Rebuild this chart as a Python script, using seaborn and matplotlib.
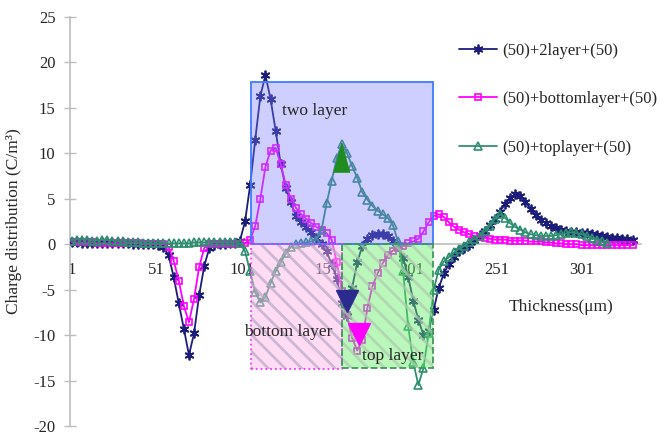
import numpy as np
import pandas as pd
import matplotlib
matplotlib.use("Agg")
import matplotlib.pyplot as plt
from matplotlib.patches import Rectangle
import seaborn as sns

# thickness positions (every 3rd sample) and charge density
thickness = list(range(1, 332, 3))

two_layer = [
    0.2, 0.2, 0.1, 0.1, 0.1, 0.1, 0.1, 0.1, 0.1, 0.1,
    0.1, 0.1, 0.0, 0.0, 0.0, 0.0, 0.0, -0.1, -0.3, -1.2,
    -3.6, -6.5, -9.3, -12.2, -9.8, -5.6, -2.4, -0.4, -0.1, 0.0,
    0.0, 0.1, 0.1, 0.4, 2.5, 6.5, 11.5, 16.3, 18.6, 16.0,
    12.5, 8.8, 6.2, 4.6, 3.1, 2.4, 1.9, 1.3, 0.7, 0.0,
    -0.8, -2.2, -3.8, -6.5, -7.9, -4.8, -2.0, -0.2, 0.6, 1.0,
    1.1, 1.1, 0.9, 0.4, -0.2, -1.5, -3.6, -6.2, -8.3, -10.0,
    -9.6, -7.2, -4.8, -3.2, -2.2, -1.4, -0.8, -0.4, -0.1, 0.5,
    1.0, 1.5, 2.1, 2.8, 3.6, 4.4, 5.1, 5.5, 5.3, 4.7,
    3.9, 3.2, 2.7, 2.3, 2.0, 1.8, 1.6, 1.4, 1.3, 1.3,
    1.2, 1.2, 1.1, 1.0, 0.9, 0.8, 0.7, 0.7, 0.6, 0.6,
    0.5,
]

bottom_layer = [
    0.2, 0.2, 0.2, 0.2, 0.2, 0.1, 0.1, 0.1, 0.1, 0.1,
    0.1, 0.1, 0.1, 0.1, 0.0, 0.0, 0.0, 0.0, 0.0, -0.3,
    -1.8, -4.0, -6.8, -8.6, -6.0, -2.5, -0.4, 0.0, 0.0, 0.0,
    0.0, 0.0, 0.0, 0.0, 0.1, 0.5, 2.0, 5.0, 8.5, 10.3,
    10.6, 8.8, 6.5, 5.0, 4.0, 3.3, 2.8, 2.3, 1.9, 1.6,
    1.2, 0.5, -2.0, -5.2, -7.8, -10.3, -11.7, -10.5, -7.0, -4.6,
    -3.2, -2.1, -1.2, -0.7, -0.4, -0.2, 0.1, 0.3, 0.6, 1.4,
    2.4, 3.1, 3.3, 3.0, 2.4, 1.9, 1.6, 1.3, 1.1, 0.9,
    0.8, 0.7, 0.6, 0.5, 0.5, 0.5, 0.4, 0.4, 0.4, 0.4,
    0.3, 0.3, 0.3, 0.2, 0.2, 0.1, 0.1, 0.0, 0.0, 0.0,
    -0.1, -0.1, -0.1, -0.1, -0.1, -0.1, -0.1, -0.1, -0.1, -0.1,
    -0.1,
]

top_layer = [
    0.4, 0.5, 0.5, 0.5, 0.4, 0.4, 0.5, 0.5, 0.4, 0.3,
    0.3, 0.2, 0.2, 0.2, 0.1, 0.1, 0.1, 0.1, 0.1, 0.1,
    0.1, 0.1, 0.1, 0.1, 0.2, 0.2, 0.2, 0.2, 0.2, 0.2,
    0.2, 0.2, 0.2, 0.1, -0.8, -3.0, -5.3, -6.4, -5.8, -4.3,
    -3.0, -2.0, -1.0, -0.3, 0.0, 0.1, 0.2, 0.3, 0.5, 1.6,
    4.5, 7.0, 9.5, 11.0, 10.0, 8.6, 7.3, 5.7, 4.9, 4.2,
    3.7, 3.3, 2.9, 2.1, 0.3, -3.0, -9.0, -13.0, -15.5, -13.6,
    -9.8, -5.0, -2.8, -1.9, -1.4, -0.9, -0.5, -0.2, 0.2, 0.6,
    0.9, 1.4, 2.0, 2.8, 3.3, 2.9, 2.3, 1.9, 1.6, 1.3,
    1.1, 1.0, 0.9, 0.9, 0.9, 1.0, 1.1, 1.2, 1.3, 1.2,
    1.1, 0.9, 0.7, 0.5, 0.3, 0.1, np.nan, np.nan, np.nan, np.nan,
    np.nan,
]

series_names = ["(50)+2layer+(50)", "(50)+bottomlayer+(50)", "(50)+toplayer+(50)"]

# shaded layer regions: x start, x end, y low, y high
layer_names = ["two layer", "bottom layer", "top layer"]
layer_x0 = [106.3, 106.3, 159.8]
layer_x1 = [213.4, 159.8, 213.4]
layer_y0 = [0.0, -13.7, -13.6]
layer_y1 = [17.9, 0.0, 0.0]

# big filled triangles marking the layer peaks
peak_x = [163.0, 170.0, 159.5]
peak_y = [-6.2, -9.9, 9.6]

x_ticks = [1, 51, 101, 151, 201, 251, 301]
y_ticks = [-20, -15, -10, -5, 0, 5, 10, 15, 20, 25]

sns.set_theme(style="white")
plt.rcParams["font.family"] = ["Liberation Serif", "DejaVu Serif"]
plt.rcParams["axes.unicode_minus"] = False
plt.rcParams["hatch.linewidth"] = 2.0

fig = plt.figure(figsize=(6.58, 4.36), dpi=100)
ax = fig.add_axes([70 / 658, 10 / 436, 571 / 658, 409 / 436])

df = pd.DataFrame({"x": thickness, "s1": two_layer, "s2": bottom_layer, "s3": top_layer})

colors = ["#1c1c7a", "#ff00ff", "#2e8f70"]
styles = [
    dict(marker=(6, 2, 0), markersize=7, markerfacecolor="none", markeredgewidth=1.3),
    dict(marker="s", markersize=5, markerfacecolor="none", markeredgewidth=1.2),
    dict(marker="^", markersize=5.5, markerfacecolor="none", markeredgewidth=1.2),
]
for col, name, c, st in zip(["s1", "s2", "s3"], series_names, colors, styles):
    d = df[["x", col]].dropna()
    sns.lineplot(x=d["x"], y=d[col], ax=ax, label=name, color=c, linewidth=1.3,
                 markeredgecolor=c, sort=False, estimator=None, zorder=3, **st)

# layer boxes drawn over the curves, semi transparent
ax.add_patch(Rectangle((layer_x0[0], layer_y0[0]), layer_x1[0] - layer_x0[0],
                       layer_y1[0] - layer_y0[0], facecolor="#7878ff", alpha=0.36,
                       edgecolor="none", zorder=4))
ax.add_patch(Rectangle((layer_x0[0], layer_y0[0]), layer_x1[0] - layer_x0[0],
                       layer_y1[0] - layer_y0[0], fill=False, edgecolor="#3f7bff",
                       linewidth=1.3, zorder=5))

ax.add_patch(Rectangle((layer_x0[1], layer_y0[1]), layer_x1[1] - layer_x0[1],
                       layer_y1[1] - layer_y0[1], facecolor="#ffb3e6", alpha=0.45,
                       edgecolor="none", zorder=4))
ax.add_patch(Rectangle((layer_x0[1], layer_y0[1]), layer_x1[1] - layer_x0[1],
                       layer_y1[1] - layer_y0[1], fill=False, hatch="\\\\",
                       edgecolor="#b8a8c8", linewidth=0, alpha=0.7, zorder=4))
ax.add_patch(Rectangle((layer_x0[1], layer_y0[1]), layer_x1[1] - layer_x0[1],
                       layer_y1[1] - layer_y0[1], fill=False, edgecolor="#ff33ff",
                       linestyle=":", linewidth=1.3, zorder=5))

ax.add_patch(Rectangle((layer_x0[2], layer_y0[2]), layer_x1[2] - layer_x0[2],
                       layer_y1[2] - layer_y0[2], facecolor="#66ee66", alpha=0.45,
                       edgecolor="none", zorder=4))
ax.add_patch(Rectangle((layer_x0[2], layer_y0[2]), layer_x1[2] - layer_x0[2],
                       layer_y1[2] - layer_y0[2], fill=False, hatch="\\\\",
                       edgecolor="#b0c8b0", linewidth=0, alpha=0.7, zorder=4))
ax.add_patch(Rectangle((layer_x0[2], layer_y0[2]), layer_x1[2] - layer_x0[2],
                       layer_y1[2] - layer_y0[2], fill=False, edgecolor="#3c9a5c",
                       linestyle="--", linewidth=1.3, zorder=5))

ax.plot(peak_x[0], peak_y[0], marker="v", markersize=16, color="#2b2b8f", zorder=6)
ax.plot(peak_x[1], peak_y[1], marker="v", markersize=16, color="#ff00ff", zorder=6)
ax.plot(peak_x[2], peak_y[2], marker=[(-0.55, -1), (0.55, -1), (0, 1)],
        markersize=21, color="#1e8c1e", zorder=6)

ax.text(125, 14.7, layer_names[0], fontsize=12.5, va="center", ha="left", zorder=7)
ax.text(102.5, -9.7, layer_names[1], fontsize=12.5, va="center", ha="left", zorder=7)
ax.text(172, -12.3, layer_names[2], fontsize=12.5, va="center", ha="left", zorder=7)
ax.text(258, -6.9, "Thickness(\u03bcm)", fontsize=12.5, va="center", ha="left")

ax.set_xlim(0, 336)
ax.set_ylim(-20, 25)
ax.set_xticks(x_ticks)
ax.set_yticks(y_ticks)
ax.set_xlabel("")
ax.set_ylabel("Charge distribution (C/m\u00b3)", fontsize=12.5, labelpad=8)

ax.spines["bottom"].set_position(("data", 0))
for s in ["top", "right"]:
    ax.spines[s].set_visible(False)
for s in ["left", "bottom"]:
    ax.spines[s].set_color("#bdbdbd")
    ax.spines[s].set_linewidth(1.2)
ax.tick_params(axis="y", direction="inout", length=9, width=1, color="#bdbdbd",
               labelsize=12, pad=6, left=True)
ax.tick_params(axis="x", length=0, labelsize=12, pad=13)

leg = ax.legend(loc="upper left", bbox_to_anchor=(452 / 658, 1 - 36 / 436),
                bbox_transform=fig.transFigure, frameon=False, fontsize=12,
                handlelength=2.3, handletextpad=0.3, labelspacing=1.95,
                borderaxespad=0)
for h, ms in zip(leg.legend_handles, [7, 5, 5.5]):
    h.set_markersize(ms)

fig.savefig("out.png", dpi=100)
